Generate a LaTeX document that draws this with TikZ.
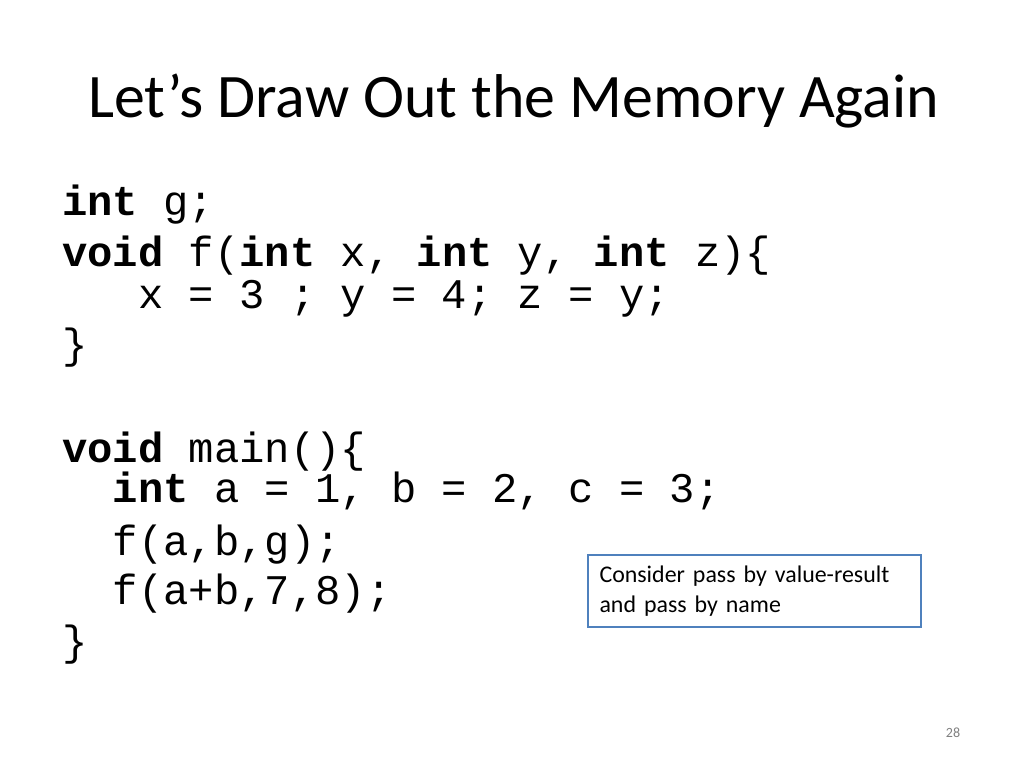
\documentclass[tikz,border=0pt]{standalone}
\usepackage{fontspec}
\setmainfont{Carlito}
\setmonofont{Liberation Mono}
\usetikzlibrary{positioning}
\definecolor{NoteBlue}{HTML}{4F81BD}
\tikzset{
  % Text styles
  titletext/.style={anchor=base west, inner sep=0pt, font=\fontsize{44}{52}\selectfont},
  codeline/.style={anchor=base west, inner sep=0pt, font=\ttfamily\fontsize{30}{36}\selectfont},
  notebox/.style={rectangle, draw=NoteBlue, line width=1.5pt, fill=white, minimum width=333*0.025cm, minimum height=72*0.025cm, align=left, text width=310*0.025cm, font=\raggedright\fontsize{17}{21}\selectfont}
}
\begin{document}
\begin{tikzpicture}[x=0.025cm, y=-0.025cm]
  \useasboundingbox (0,0) rectangle (1024,768);
  % Title
  \node[titletext] (title) at (88,118) {Let’s Draw Out the Memory Again};

  % Code
  \node[codeline] (l1) at (62,215) {\textbf{int} g;};
  \node[codeline] (l2) at (62,266) {\textbf{void} f(\textbf{int} x, \textbf{int} y, \textbf{int} z)\{};
  \node[codeline] (l3) at (62,308) {\ \ \ x = 3 ; y = 4; z = y;};
  \node[codeline] (l4) at (62,358) {\}};
  \node[codeline] (l5) at (62,462) {\textbf{void} main()\{};
  \node[codeline] (l6) at (62,502) {\ \ \textbf{int} a = 1, b = 2, c = 3;};
  \node[codeline] (l7) at (62,555) {\ \ f(a,b,g);};
  \node[codeline] (l8) at (62,604) {\ \ f(a+b,7,8);};
  \node[codeline] (l9) at (62,655) {\}};

  % Note
  \node[notebox] (note) at (754.5,591) {Consider pass by value-result\\and pass by name};

  % Page number
  \node[text=gray, font=\fontsize{10}{12}\selectfont] (page) at (953,733) {28};
\end{tikzpicture}
\end{document}
